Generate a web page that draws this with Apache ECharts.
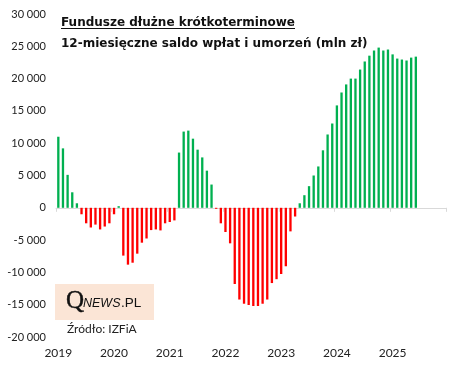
<!DOCTYPE html>
<html>
<head>
<meta charset="utf-8">
<script src="https://cdn.jsdelivr.net/npm/echarts@6/dist/echarts.min.js"></script>
<style>
html,body{margin:0;padding:0;background:#fff;}
#chart{width:460px;height:371px;}
</style>
</head>
<body>
<div id="chart"></div>
<script>
// ---- data ----
const years = ['2019','2020','2021','2022','2023','2024','2025'];
const months = ['01','02','03','04','05','06','07','08','09','10','11','12'];
const saldo = [
  // 2019
  11000, 9200, 5100, 2400, 700, -1000, -2400, -3050, -2600, -3350, -2900, -2400,
  // 2020
  -1000, 250, -7400, -8800, -8500, -7100, -5400, -4750, -3450, -3350, -3500, -2400,
  // 2021
  -2200, -1950, 8550, 11800, 11950, 10700, 9000, 7800, 5750, 3600, -150, -2400,
  // 2022
  -3750, -5500, -11800, -14200, -14850, -15050, -15200, -15200, -14850, -14200, -11650, -11050,
  // 2023
  -10250, -9050, -3650, -1350, 700, 1950, 3350, 5000, 6400, 8900, 11350, 13050,
  // 2024
  15850, 17850, 19100, 20000, 20000, 21400, 22650, 23550, 24350, 24800, 24350, 24500,
  // 2025
  23750, 23100, 22950, 22800, 23250, 23400
];
const yTicks = {min: -20000, max: 30000, step: 5000};
const titleLine1 = 'Fundusze dłużne krótkoterminowe';
const titleLine2 = '12-miesięczne saldo wpłat i umorzeń (mln zł)';
const sourceText = 'Źródło: IZFiA';

const categories = [];
years.forEach(y => months.forEach(m => categories.push(y + '-' + m)));

const GREEN = '#00B050', RED = '#FF0000';
const FONT = 'Lato, "Open Sans", sans-serif';
const TFONT = '"DejaVu Sans", sans-serif';

const chart = echarts.init(document.getElementById('chart'), null, {renderer: 'canvas'});
chart.setOption({
  animation: false,
  backgroundColor: '#fff',
  grid: {left: 56, right: 14, top: 14, bottom: 34},
  xAxis: [
    {
      type: 'category', data: categories, position: 'bottom',
      axisLine: {show: false, onZero: false},
      axisTick: {show: false},
      axisLabel: {
        interval: 11, margin: 10,
        color: '#222', fontFamily: FONT, fontSize: 12,
        formatter: v => v.slice(0, 4)
      },
      splitLine: {show: false}
    },
    {
      type: 'category', data: categories, position: 'top',
      axisLine: {show: true, onZero: true, lineStyle: {color: '#D9D9D9', width: 1}},
      axisTick: {show: true, inside: true, interval: 11, length: 4, lineStyle: {color: '#D9D9D9'}},
      axisLabel: {show: false},
      splitLine: {show: false}
    }
  ],
  yAxis: {
    type: 'value', min: yTicks.min, max: yTicks.max, interval: yTicks.step,
    axisLine: {show: false}, axisTick: {show: false}, splitLine: {show: false},
    axisLabel: {
      margin: 10, color: '#222', fontFamily: FONT, fontSize: 11,
      formatter: v => {
        const s = Math.abs(v).toString().replace(/\B(?=(\d{3})+(?!\d))/g, ' ');
        return (v < 0 ? '-' : '') + s;
      }
    }
  },
  series: [{
    type: 'bar', xAxisIndex: 0, data: saldo, barWidth: '50%',
    itemStyle: {color: p => p.value >= 0 ? GREEN : RED}
  }],
  graphic: [
    {type: 'text', x: 61, y: 22.4, style: {text: titleLine1, font: 'bold 12px ' + TFONT, fill: '#111', verticalAlign: 'middle'}},
    {type: 'line', shape: {x1: 61, y1: 28.5, x2: 295, y2: 28.5}, style: {stroke: '#111', lineWidth: 1}},
    {type: 'text', x: 61, y: 43.4, style: {text: titleLine2, font: 'bold 12px ' + TFONT, fill: '#111', verticalAlign: 'middle'}},
    {type: 'rect', shape: {x: 55, y: 284, width: 99, height: 36}, style: {fill: '#FBE5D6'}},
    {type: 'text', x: 66, y: 301, style: {text: 'Q', font: '25px "Liberation Serif", serif', fill: '#111', stroke: '#111', lineWidth: 0.4, verticalAlign: 'middle'}},
    {type: 'text', x: 83, y: 303.5, style: {text: 'NEWS', font: 'italic 12.5px "Liberation Sans", sans-serif', fill: '#111', verticalAlign: 'middle'}},
    {type: 'text', x: 121, y: 303.5, style: {text: '.PL', font: '13.5px "Liberation Sans", sans-serif', fill: '#111', verticalAlign: 'middle'}},
    {type: 'text', x: 67, y: 329, style: {text: sourceText, font: '12px ' + FONT, fill: '#222', verticalAlign: 'middle'}}
  ]
});
</script>
</body>
</html>
